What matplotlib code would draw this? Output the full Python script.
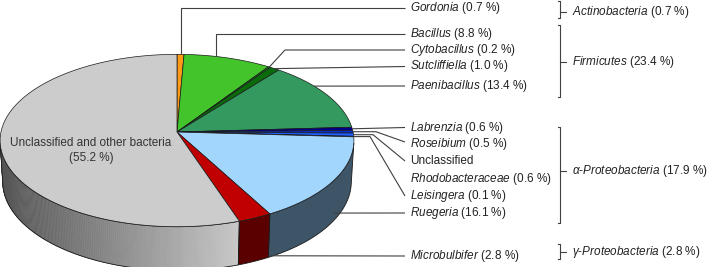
import numpy as np
import matplotlib.pyplot as plt
from matplotlib.patches import Polygon

plt.rcParams['font.family'] = ['Liberation Sans', 'DejaVu Sans']
plt.rcParams['mathtext.fontset'] = 'custom'
plt.rcParams['mathtext.rm'] = 'Liberation Sans'
plt.rcParams['mathtext.it'] = 'Liberation Sans:italic'

# slices, clockwise from 12 o'clock
genera = ['Gordonia', 'Bacillus', 'Cytobacillus', 'Sutcliffiella', 'Paenibacillus',
          'Labrenzia', 'Roseibium', 'Rhodobacteraceae', 'Leisingera',
          'Ruegeria', 'Microbulbifer', 'Unclassified and other bacteria']
shares = [0.7, 8.8, 0.2, 1.0, 13.4, 0.6, 0.5, 0.6, 0.1, 16.1, 2.8, 55.2]
top_colors = ['#ff9a17', '#42c42a', '#1d8a1d', '#0a6b0a', '#33995f',
              '#000086', '#0a2fd0', '#1f5fff', '#3c8cff',
              '#a3d6fd', '#c00000', '#cdcccc']
side_colors = ['#7a4a0b', '#1f5f14', '#0e430e', '#053505', '#184a2e',
               '#000043', '#051768', '#0f2f80', '#1e4680',
               '#3e5467', '#5a0000', None]

phyla = ['Actinobacteria', 'Firmicutes', 'α-Proteobacteria', 'γ-Proteobacteria']
phyla_shares = [0.7, 23.4, 17.9, 2.8]

# 3d pie projection (perspective)
E = np.radians(29)
D = 8.84
F = 1556
CX, CY = 177, 132
H = 0.27


def proj(theta, z=0.0):
    X, Y = np.sin(theta), np.cos(theta)
    yc = Y * np.sin(E) + z * np.cos(E)
    d = D + Y * np.cos(E) - z * np.sin(E)
    return CX + F * X / d, CY - F * yc / d


fig = plt.figure(figsize=(7.07, 2.67), dpi=100)
ax = fig.add_axes([0, 0, 1, 1])
ax.set_xlim(0, 707)
ax.set_ylim(267, 0)
ax.axis('off')

bounds = np.concatenate([[0], np.cumsum(shares)]) / sum(shares) * 2 * np.pi
vis_lo = np.arccos(-1 / (D * np.cos(E)))
vis_hi = 2 * np.pi - vis_lo
edge = '#1a1a1a'

# side walls
for i in range(len(shares)):
    lo, hi = max(bounds[i], vis_lo), min(bounds[i + 1], vis_hi)
    if lo >= hi:
        continue
    t = np.linspace(lo, hi, 80)
    tx, ty = proj(t, 0)
    bx, by = proj(t[::-1], -H)
    pts = np.column_stack([np.r_[tx, bx], np.r_[ty, by]])
    if side_colors[i] is None:
        # grey wall with shading from left to right
        tt = np.linspace(lo, hi, 160)
        xs, _ = proj(tt, 0)
        light = np.array([0.78, 0.78, 0.78])
        dark = np.array([0.33, 0.33, 0.33])
        for k in range(len(tt) - 1):
            seg = np.array([tt[k], tt[k + 1]])
            sx, sy = proj(seg, 0)
            ex, ey = proj(seg[::-1], -H)
            f = (xs[k] - xs.min()) / (xs.max() - xs.min())
            c = dark + (light - dark) * f
            ax.add_patch(Polygon(np.column_stack([np.r_[sx, ex], np.r_[sy, ey]]),
                                 closed=True, fc=c, ec=c, lw=0.4, zorder=1.9))
        ax.add_patch(Polygon(pts, closed=True, fill=False, ec=edge, lw=0.6, zorder=2))
    else:
        ax.add_patch(Polygon(pts, closed=True, fc=side_colors[i], ec=edge, lw=0.6, zorder=2))

# top face
for i in range(len(shares)):
    t = np.linspace(bounds[i], bounds[i + 1], max(3, int(shares[i] * 4)))
    tx, ty = proj(t, 0)
    pts = np.column_stack([np.r_[CX, tx], np.r_[CY, ty]])
    ax.add_patch(Polygon(pts, closed=True, fc=top_colors[i], ec=edge, lw=0.5, zorder=3))

# labels with leader lines
label_y = [7.5, 34, 50, 66.5, 86, 127.5, 144, 178.6, 195.8, 213, 256]
anchor = [(0.5, 0), (0.36, 0), (0.5, 0), (0.5, 0), (0.35, 0), (0.5, 0), (0.5, 0),
          (0.5, 0), (0.5, 0), (0.48, -0.22), (0.0, -0.26)]
elbows = [['v'], ['v'], [(285, 50)], [], [], [], [(376, None)], [(373, None)],
          [(370, None)], [], []]
end_y = [7.5, 34, 50, 66.5, 86, 127.5, 142, 161, 196, 213, 256]
LX = 405
line_c = '#404040'
txt_c = '#222222'
fs = 8.5

for i, g in enumerate(genera[:-1]):
    fr, z = anchor[i]
    th = bounds[i] + fr * (bounds[i + 1] - bounds[i])
    x0, y0 = proj(th, z)
    xs, ys = [x0], [y0]
    for e in elbows[i]:
        if e == 'v':
            xs.append(x0)
            ys.append(end_y[i])
        else:
            xs.append(e[0])
            ys.append(y0 if e[1] is None else e[1])
    xs.append(LX)
    ys.append(end_y[i])
    ax.plot(xs, ys, color=line_c, lw=0.8, zorder=4, solid_capstyle='butt')
    ax.text(LX + 5, label_y[i], r'$\mathit{%s}$ (%.1f %%)' % (g, shares[i]),
            fontsize=fs, color=txt_c, ha='left', va='center')

ax.text(LX + 5, 161.4, 'Unclassified', fontsize=fs, color=txt_c, ha='left', va='center')

ax.text(91, 150.5, '%s\n(%.1f %%)' % (genera[-1], shares[-1]), fontsize=fs,
        color='#333333', ha='center', va='center', linespacing=1.25, zorder=5)

# phylum brackets
BX = 560
br_top = [1, 25, 127, 244]
br_bot = [18, 97, 223, 259]
br_mid = [11.5, 62, 171, 252]
for k, p in enumerate(phyla):
    ax.plot([BX - 2, BX, BX, BX - 2], [br_top[k], br_top[k], br_bot[k], br_bot[k]],
            color=line_c, lw=0.8)
    ax.plot([BX, BX + 6], [br_mid[k], br_mid[k]], color=line_c, lw=0.8)
    greek, rest = (p.split('-', 1) if '-' in p else (None, p))
    if greek:
        s = r'$\mathit{%s}$-$\mathit{%s}$ (%.1f %%)' % (greek, rest, phyla_shares[k])
    else:
        s = r'$\mathit{%s}$ (%.1f %%)' % (rest, phyla_shares[k])
    ax.text(BX + 12, br_mid[k], s, fontsize=fs, color=txt_c, ha='left', va='center')

fig.savefig('out.png', dpi=100)
